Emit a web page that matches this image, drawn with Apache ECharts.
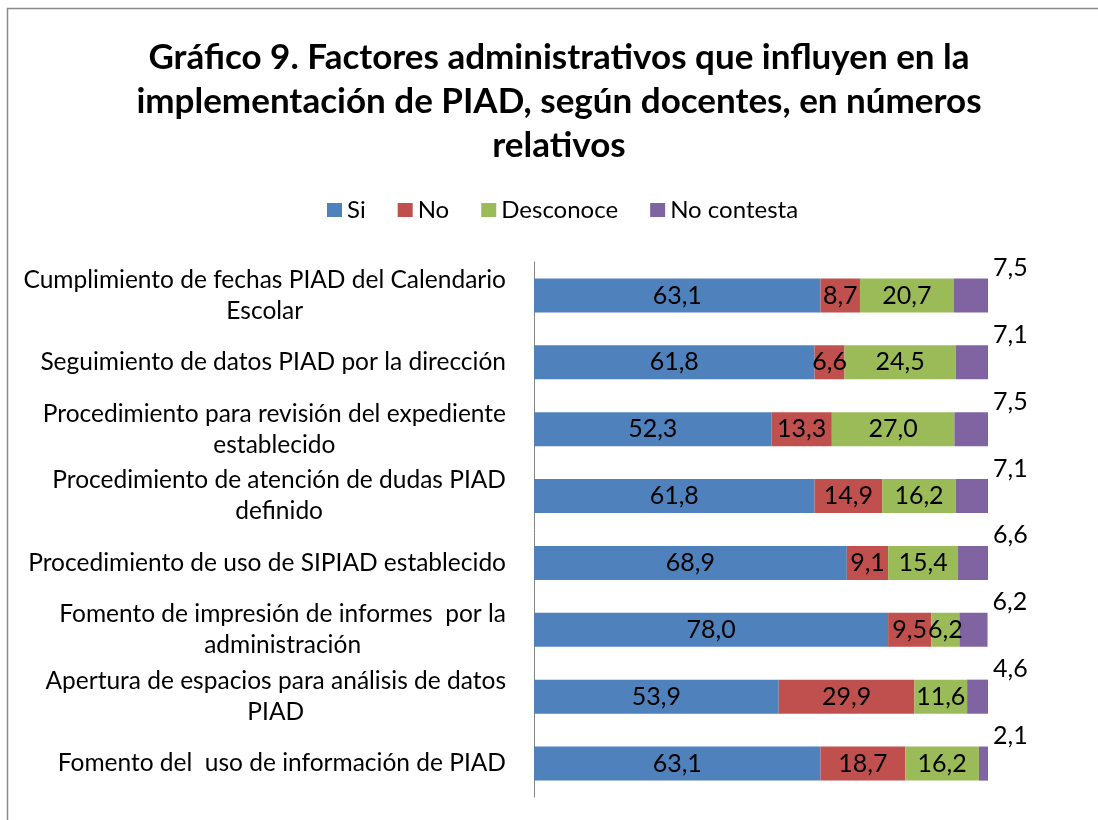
<!DOCTYPE html>
<html>
<head>
<meta charset="utf-8">
<title>Gráfico 9</title>
<script src="https://cdn.jsdelivr.net/npm/echarts@6/dist/echarts.min.js"></script>
<style>
  html, body { margin: 0; padding: 0; background: #fff; }
  #chart { width: 1098px; height: 820px; }
</style>
</head>
<body>
<div id="chart"></div>
<script>
// categorias (de arriba hacia abajo)
const categories = [
  'Cumplimiento de fechas PIAD del Calendario\nEscolar',
  'Seguimiento de datos PIAD por la dirección',
  'Procedimiento para revisión del expediente\nestablecido',
  'Procedimiento de atención de dudas PIAD\ndefinido',
  'Procedimiento de uso de SIPIAD establecido',
  'Fomento de impresión de informes  por la\nadministración',
  'Apertura de espacios para análisis de datos\nPIAD',
  'Fomento del  uso de información de PIAD'
]
const seriesNames = ['Si', 'No', 'Desconoce', 'No contesta']
const si = [63.1, 61.8, 52.3, 61.8, 68.9, 78.0, 53.9, 63.1]
const no = [8.7, 6.6, 13.3, 14.9, 9.1, 9.5, 29.9, 18.7]
const desconoce = [20.7, 24.5, 27.0, 16.2, 15.4, 6.2, 11.6, 16.2]
const noContesta = [7.5, 7.1, 7.5, 7.1, 6.6, 6.2, 4.6, 2.1]
const colors = ['#4F81BD', '#C0504D', '#9BBB59', '#8064A2']

const font = 'Lato, "Noto Sans", sans-serif'
const fmt = (p) => p.value.toFixed(1).replace('.', ',')

const chart = echarts.init(document.getElementById('chart'))

const insideLabel = {
  show: true,
  position: 'inside',
  formatter: fmt,
  color: '#000',
  fontFamily: font,
  fontSize: 25,
}

const option = {
  animation: false,
  backgroundColor: '#fff',
  color: colors,
  title: {
    text: 'Gráfico 9. Factores administrativos que influyen en la\nimplementación de PIAD, según docentes, en números\nrelativos',
    left: 554,
    top: 31,
    textAlign: 'center',
    textStyle: {
      fontFamily: font,
      fontSize: 35,
      fontWeight: 'bold',
      lineHeight: 44,
      color: '#000',
    },
  },
  legend: {
    top: 193,
    left: 322,
    itemWidth: 15,
    itemHeight: 14,
    itemGap: 32,
    icon: 'rect',
    textStyle: { fontFamily: font, fontSize: 24, color: '#000' },
    data: seriesNames,
  },
  graphic: [
    {
      type: 'rect',
      shape: { x: 7.5, y: 8.5, width: 1200, height: 900 },
      style: { fill: null, stroke: '#8a8a8a', lineWidth: 1.5 },
      silent: true,
    },
  ],
  grid: { left: 534, right: 110, top: 262, bottom: 23, containLabel: false },
  xAxis: {
    type: 'value',
    min: 0,
    max: 100,
    show: false,
  },
  yAxis: {
    type: 'category',
    inverse: true,
    data: categories,
    axisLine: { show: true, lineStyle: { color: '#868686', width: 1 } },
    axisTick: { show: false },
    axisLabel: {
      margin: 28,
      align: 'right',
      formatter: (v) => v.split('\n').map((l) => '{c|' + l + '}').join('\n'),
      rich: {
        c: {
          align: 'center',
          fontFamily: font,
          fontSize: 24.5,
          lineHeight: 31,
          color: '#000',
        },
      },
    },
  },
  series: [
    { name: 'Si', type: 'bar', stack: 't', data: si, barCategoryGap: '49%', label: insideLabel },
    { name: 'No', type: 'bar', stack: 't', data: no, label: insideLabel },
    { name: 'Desconoce', type: 'bar', stack: 't', data: desconoce, label: insideLabel },
    {
      name: 'No contesta',
      type: 'bar',
      stack: 't',
      data: noContesta,
      label: {
        show: true,
        position: ['100%', 0],
        align: 'left',
        verticalAlign: 'bottom',
        offset: [5, 2],
        formatter: fmt,
        color: '#000',
        fontFamily: font,
        fontSize: 25,
      },
    },
  ],
}

chart.setOption(option)
</script>
</body>
</html>
